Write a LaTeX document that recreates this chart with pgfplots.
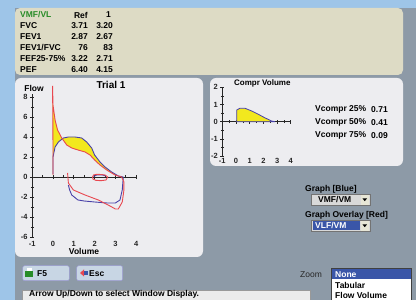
\documentclass[border=0pt]{standalone}
\usepackage{fontspec}
\setmainfont{Liberation Sans}
\usepackage{pgfplots}
\pgfplotsset{compat=1.18}
\definecolor{bggray}{RGB}{141,154,167}
\definecolor{skyblue}{RGB}{158,197,232}
\definecolor{beige}{RGB}{221,219,197}
\definecolor{panel}{RGB}{237,237,240}
\definecolor{cred}{RGB}{232,72,80}
\definecolor{cblue}{RGB}{72,64,168}
\definecolor{cyellow}{RGB}{242,232,30}
\definecolor{selblue}{RGB}{58,86,168}
\definecolor{vgreen}{RGB}{40,140,40}
\definecolor{btn}{RGB}{200,214,228}
\pgfplotsset{
  myaxis/.style={
    enlargelimits=false, clip=false,
    axis x line=middle, axis y line=left,
    axis line style={-, line width=0.8pt, black!85},
    every inner x axis line/.append style={-},
    every outer y axis line/.append style={-},
    every inner y axis line/.append style={-},
    every outer x axis line/.append style={-},
    tick align=center,
    major tick length=4pt, minor tick length=3pt,
    tick style={black!85, line width=0.6pt},
    minor x tick num=1, minor y tick num=1,
    hide obscured x ticks=false, hide obscured y ticks=false,
    /pgf/number format/assume math mode=true,
    ticklabel style={font=\bfseries\fontsize{7.5}{8}\selectfont, black!85},
    yticklabel style={xshift=1pt},
  }
}
\begin{document}
\begin{tikzpicture}[x=1pt,y=1pt, font=\bfseries\fontsize{8.5}{10}\selectfont]
% background
\fill[bggray] (0,0) rectangle (416,300);
\fill[skyblue] (0,0) rectangle (15,300);
\fill[skyblue] (0,292) rectangle (416,300);
\fill[beige, rounded corners=5pt] (15,225) rectangle (403,292);
% panels
\fill[panel, rounded corners=6pt] (15,43) rectangle (203,222);
\fill[panel, rounded corners=6pt] (210,134) rectangle (403,222);
% table
\node[anchor=west, inner sep=0, text=vgreen] at (20,285) {VMF/VL};
\node[anchor=east, inner sep=0] at (88,285) {Ref};
\node[anchor=east, inner sep=0] at (111,285) {1};
\node[anchor=west, inner sep=0] at (20,274) {FVC};
\node[anchor=east, inner sep=0] at (88,274) {3.71};
\node[anchor=east, inner sep=0] at (113,274) {3.20};
\node[anchor=west, inner sep=0] at (20,263) {FEV1};
\node[anchor=east, inner sep=0] at (88,263) {2.87};
\node[anchor=east, inner sep=0] at (113,263) {2.67};
\node[anchor=west, inner sep=0] at (20,252) {FEV1/FVC};
\node[anchor=east, inner sep=0] at (88,252) {76};
\node[anchor=east, inner sep=0] at (113,252) {83};
\node[anchor=west, inner sep=0] at (20,241) {FEF25-75\%};
\node[anchor=east, inner sep=0] at (88,241) {3.22};
\node[anchor=east, inner sep=0] at (113,241) {2.71};
\node[anchor=west, inner sep=0] at (20,230) {PEF};
\node[anchor=east, inner sep=0] at (88,230) {6.40};
\node[anchor=east, inner sep=0] at (113,230) {4.15};
% main chart
\begin{axis}[myaxis, at={(32.2pt,63pt)}, anchor=south west,
  x=20.8pt, y=10pt, xmin=-1, xmax=4, ymin=-6, ymax=8.3,
  xtick={-1,0,1,2,3,4}, ytick={-6,-4,-2,0,2,4,6,8},
  xticklabel style={yshift=-59pt}]
% yellow area between the red and blue expiratory curves
\addplot[draw=none, fill=cyellow] coordinates {(0,0.2) (0,3) (-0.02,9.1) (0,7.2) (0.1,5.7) (0.22,4.7) (0.42,3.9) (0.66,3.2) (0.9,2.9) (1.2,2.7) (1.54,2.5) (1.78,2.2) (2.0,1.7) (2.26,1.2) (2.58,0.7) (2.98,0.2) (3.3,0)
 (3.38,0) (3.14,0.1) (2.82,0.5) (2.5,1.0) (2.26,1.5) (2.0,2.2) (1.86,2.9) (1.62,3.5) (1.38,3.9) (1.06,4.0) (0.74,4.0) (0.5,3.9) (0.26,3.5) (0.1,3.0) (0,2.0) (0,0.3)} -- cycle;
% blue curves
\addplot[cblue, line width=0.9pt] coordinates {(0,0.3) (0,2.0) (0.1,3.0) (0.26,3.5) (0.5,3.9) (0.74,4.0) (1.06,4.0) (1.38,3.9) (1.62,3.5) (1.86,2.9) (2.0,2.2) (2.26,1.5) (2.5,1.0) (2.82,0.5) (3.14,0.1) (3.38,0)};
\addplot[cblue, line width=0.9pt] coordinates {(3.38,0) (3.33,-1.3) (3.22,-2.3) (3.0,-2.6) (2.6,-2.6) (2.0,-2.5) (1.5,-2.4) (1.2,-2.3) (0.9,-1.8) (0.8,-1.3) (0.74,-0.8)};
\addplot[cblue, line width=0.9pt] coordinates {(1.95,0.05) (2.1,0.2) (2.35,0.22) (2.55,0.1)};
% red curves
\addplot[cred, line width=0.9pt] coordinates {(0,0.2) (0,3) (-0.02,9.1) (0,7.2) (0.1,5.7) (0.22,4.7) (0.42,3.9) (0.66,3.2) (0.9,2.9) (1.2,2.7) (1.54,2.5) (1.78,2.2) (2.0,1.7) (2.26,1.2) (2.58,0.7) (2.98,0.2) (3.3,0)};
\addplot[cred, line width=0.9pt] coordinates {(3.3,0) (3.41,-0.5) (3.41,-1.3) (3.33,-2.5) (3.14,-3.2) (3.0,-3.2) (2.74,-2.9) (2.18,-2.3) (1.54,-1.8) (0.98,-1.3) (0.74,-0.6) (0.7,0.4)};
\addplot[cred, line width=0.9pt] coordinates {(1.9,0) (1.95,0.2) (2.1,0.27) (2.3,0.25) (2.5,0.2) (2.63,0) (2.55,-0.3) (2.3,-0.37) (2.05,-0.33) (1.92,-0.2) (1.9,0)};
\end{axis}
\node[font=\bfseries\fontsize{10}{12}\selectfont] at (111,215) {Trial 1};
\node[inner sep=0] at (34,212) {Flow};
\node[inner sep=0] at (84,49) {Volume};
% compr chart
\begin{axis}[myaxis, at={(222.3pt,143.9pt)}, anchor=south west,
  x=13.7pt, y=17.2pt, xmin=-1, xmax=4, ymin=-2, ymax=2,
  xtick={-1,0,1,2,3,4}, ytick={-2,-1,0,1,2},
  xticklabel style={yshift=-31pt}]
\addplot[draw=cblue, line width=0.8pt, fill=cyellow] coordinates {(0.05,0) (0.05,0.68) (0.29,0.78) (0.66,0.78) (1.15,0.62) (1.63,0.43) (2.1,0.23) (2.6,0.04) (2.85,0)} -- cycle;
\end{axis}
\node[anchor=west, inner sep=0, font=\bfseries\fontsize{8}{9}\selectfont] at (234,216.7) {Compr Volume};
\node[anchor=west, inner sep=0] at (315,190.7) {Vcompr 25\%};
\node[anchor=west, inner sep=0] at (371,190.7) {0.71};
\node[anchor=west, inner sep=0] at (315,177.3) {Vcompr 50\%};
\node[anchor=west, inner sep=0] at (371,177.3) {0.41};
\node[anchor=west, inner sep=0] at (315,164.3) {Vcompr 75\%};
\node[anchor=west, inner sep=0] at (371,164.3) {0.09};
% right controls
\node[anchor=west, inner sep=0] at (305,111) {Graph [Blue]};
\fill[black!15] (311.7,94.3) rectangle (370,106);
\draw[black!55, line width=0.5pt] (311.7,94.3) rectangle (370,106);
\node[anchor=west, inner sep=0] at (318,100.2) {VMF/VM};
\fill[beige!70!white] (360.5,95.3) rectangle (369,105);
\fill[black] (362.5,101.5) -- (367,101.5) -- (364.75,98.8) -- cycle;
\node[anchor=west, inner sep=0] at (305,85) {Graph Overlay [Red]};
\fill[black!15] (311.7,68.3) rectangle (370,80);
\draw[black!55, line width=0.5pt] (311.7,68.3) rectangle (370,80);
\fill[selblue] (313,69.5) rectangle (359.5,78.8);
\node[anchor=west, inner sep=0, text=white] at (315,74.2) {VLF/VM};
\fill[beige!70!white] (360.5,69.3) rectangle (369,79);
\fill[black] (362.5,75.5) -- (367,75.5) -- (364.75,72.8) -- cycle;
% bottom buttons
\fill[btn, rounded corners=2pt] (22.7,19.3) rectangle (69.3,34.3);
\draw[black!45!blue!40, rounded corners=2pt, line width=0.5pt] (22.7,19.3) rectangle (69.3,34.3);
\fill[vgreen] (25,22.5) rectangle (33,28.5);
\fill[white] (26.5,28.5) rectangle (31.5,31.5);
\node[anchor=west, inner sep=0] at (37,26.8) {F5};
\fill[btn, rounded corners=2pt] (76.7,19.3) rectangle (122.7,34.3);
\draw[black!45!blue!40, rounded corners=2pt, line width=0.5pt] (76.7,19.3) rectangle (122.7,34.3);
\fill[cred] (80,27) -- (84,30.5) -- (84,23.5) -- cycle;
\fill[selblue] (84,25) rectangle (87.5,29);
\node[anchor=west, inner sep=0] at (89,26.8) {Esc};
% status bar
\fill[black!8] (22.3,0) rectangle (310,10);
\draw[black!40, line width=0.5pt] (22.3,0) |- (310,10) -- (310,0);
\node[anchor=west, inner sep=0] at (29,5.5) {Arrow Up/Down to select Window Display.};
% zoom list
\node[anchor=west, inner sep=0, font=\fontsize{8.5}{10}\selectfont, text=black!85] at (300,25) {Zoom};
\fill[white] (331,0) rectangle (411.7,31.7);
\draw[black!75, line width=0.7pt] (331,0) |- (411.7,31.7) -- (411.7,0);
\fill[selblue] (332,20.7) rectangle (410.7,30.7);
\node[anchor=west, inner sep=0, text=white] at (335,25.8) {None};
\node[anchor=west, inner sep=0] at (335,15) {Tabular};
\node[anchor=west, inner sep=0] at (335,4.3) {Flow Volume};
\pgfresetboundingbox
\path[use as bounding box] (0,0) rectangle (416,300);
\end{tikzpicture}
\end{document}
